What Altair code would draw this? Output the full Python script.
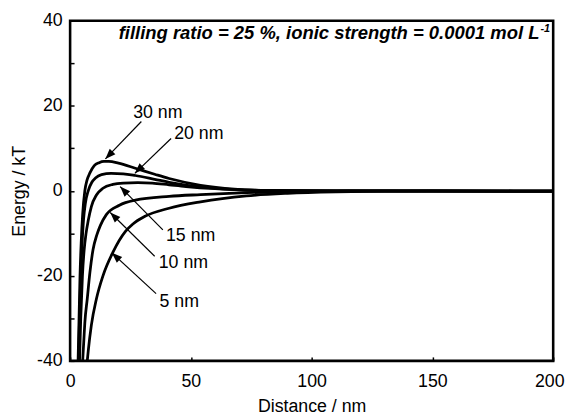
import math
import altair as alt
import pandas as pd

# ---- curve data (distance nm, energy kT) ----
x_30 = [3.3, 3.7, 4.1, 4.6, 5.2, 6.1, 7.0, 8.2, 10.0, 12.0, 14.0, 16.0, 20.0, 27.0, 35.0, 41.0, 54.0, 68.0, 80.0, 100.0, 200.0]
y_30 = [-40, -30, -20, -12, -5.5, 0, 2.5, 4.2, 5.9, 6.6, 6.9, 6.9, 6.5, 5.3, 3.9, 2.9, 1.3, 0.4, 0.1, 0.0, -0.1]

x_20 = [3.5, 3.9, 4.4, 5.0, 5.6, 6.3, 7.5, 9.0, 10.5, 13.0, 17.0, 22.0, 27.0, 35.0, 41.0, 54.0, 68.0, 80.0, 100.0, 200.0]
y_20 = [-40, -30, -20, -12, -6.5, -3.0, 0, 2.0, 3.0, 3.8, 4.1, 4.0, 3.6, 2.7, 2.0, 0.9, 0.25, 0.05, 0.0, -0.1]

x_15 = [3.9, 4.4, 5.1, 5.8, 6.6, 7.5, 8.8, 10.9, 13.6, 17.7, 22.0, 28.0, 34.0, 41.0, 48.0, 60.0, 75.0, 90.0, 110.0, 200.0]
y_15 = [-40, -30, -20, -14, -10, -7.0, -3.7, -1.0, 0.6, 1.5, 1.8, 1.9, 1.8, 1.4, 1.0, 0.5, 0.15, 0.03, 0.0, -0.1]

x_10 = [5.2, 5.7, 6.1, 7.1, 8.2, 9.5, 11.0, 12.5, 15.0, 20.4, 27.0, 41.0, 54.0, 73.0, 90.0, 110.0, 130.0, 200.0]
y_10 = [-40, -35, -31, -25.4, -19.2, -13.8, -10.5, -8.2, -5.6, -3.4, -2.2, -1.3, -0.9, -0.45, -0.2, -0.05, 0.0, -0.1]

x_5 = [7.1, 7.5, 8.8, 10.9, 13.6, 17.7, 23.0, 26.0, 31.0, 41.0, 54.0, 73.0, 90.0, 110.0, 130.0, 150.0, 200.0]
y_5 = [-40, -37.7, -31.6, -25.4, -20.0, -14.5, -9.5, -7.8, -6.0, -4.1, -2.6, -1.2, -0.6, -0.25, -0.1, 0.0, -0.1]

series = [("30 nm", x_30, y_30), ("20 nm", x_20, y_20), ("15 nm", x_15, y_15),
          ("10 nm", x_10, y_10), ("5 nm", x_5, y_5)]

# ---- annotations ----
ann_labels = ["30 nm", "20 nm", "15 nm", "10 nm", "5 nm"]
ann_text_x = [36.3, 53.3, 49.9, 46.9, 45.2]
ann_text_y = [18.3, 13.3, -10.7, -17.0, -26.2]
arr_start_x = [29.5, 41.8, 38.4, 35.0, 35.6]
arr_start_y = [16.3, 12.3, -9.2, -15.4, -24.2]
arr_tip_x = [14.6, 26.8, 20.7, 16.6, 17.3]
arr_tip_y = [7.5, 4.1, 1.0, -5.1, -14.6]

title_main = "filling ratio = 25 %, ionic strength = 0.0001 mol L"
title_sup = "-1"

x_ticks = [0, 50, 100, 150, 200]
y_ticks = [-40, -30, -20, -10, 0, 10, 20, 30, 40]

W, H = 490, 345
XMIN, XMAX, YMIN, YMAX = 0, 200, -40, 40
FONT = "Liberation Sans"

rows = []
for name, xs, ys in series:
    for i, (a, b) in enumerate(zip(xs, ys)):
        rows.append({"series": name, "order": i, "x": a, "y": b})
curves = pd.DataFrame(rows)

px_x = W / (XMAX - XMIN)
px_y = H / (YMAX - YMIN)
angles = []
for sx, sy, tx, ty in zip(arr_start_x, arr_start_y, arr_tip_x, arr_tip_y):
    dx = (tx - sx) * px_x
    dy = (ty - sy) * px_y
    angles.append(math.degrees(math.atan2(dx, dy)) % 360)

ann = pd.DataFrame({
    "label": ann_labels, "tx": ann_text_x, "ty": ann_text_y,
    "sx": arr_start_x, "sy": arr_start_y, "ex": arr_tip_x, "ey": arr_tip_y,
    "angle": angles,
})

xscale = alt.Scale(domain=[XMIN, XMAX], nice=False, zero=False)
yscale = alt.Scale(domain=[YMIN, YMAX], nice=False, zero=False)

xaxis = alt.Axis(values=x_ticks, tickSize=4, offset=-4, domain=False,
                 grid=False, labelPadding=12, labelFlush=False, labelOverlap=False,
                 labelOffset={"condition": {"test": "datum.value == 200", "value": -4},
                              "value": 0},
                 labelFont=FONT, labelFontSize=18, labelColor="black",
                 tickColor="black", tickWidth=1.5,
                 title="Distance / nm", titleFont=FONT, titleFontSize=18,
                 titleFontWeight="normal", titleColor="black", titlePadding=7)
yaxis = alt.Axis(values=y_ticks, tickSize=4, offset=-4,
                 domain=False, grid=False, labelPadding=8, labelFlush=False,
                 labelOverlap=False,
                 labelExpr="datum.value % 20 == 0 ? '' + datum.value : ''",
                 labelFont=FONT, labelFontSize=18, labelColor="black",
                 tickColor="black", tickWidth=1.5,
                 title="Energy / kT", titleFont=FONT, titleFontSize=18,
                 titleFontWeight="normal", titleColor="black", titlePadding=8)

lines = alt.Chart(curves).mark_line(color="black", strokeWidth=2.8, clip=True,
                                    interpolate="monotone").encode(
    x=alt.X("x:Q", scale=xscale, axis=xaxis),
    y=alt.Y("y:Q", scale=yscale, axis=yaxis),
    detail="series:N",
    order="order:Q",
)

frame_df = pd.DataFrame({"x": [XMIN], "x2": [XMAX], "y": [YMIN], "y2": [YMAX]})
frame = alt.Chart(frame_df).mark_rect(fill=None, fillOpacity=0, stroke="black",
                                      strokeWidth=2.6).encode(
    x="x:Q", x2="x2:Q", y="y:Q", y2="y2:Q")

arrows = alt.Chart(ann).mark_rule(color="black", strokeWidth=1.2).encode(
    x="sx:Q", y="sy:Q", x2="ex:Q", y2="ey:Q")

heads = alt.Chart(ann).mark_point(
    shape="M0,0 L-0.38,1 L0.38,1 Z", filled=True, color="black", size=440, opacity=1
).encode(x="ex:Q", y="ey:Q", angle=alt.Angle("angle:Q", scale=None))

labels = alt.Chart(ann).mark_text(font=FONT, fontSize=18, color="black",
                                  align="center", baseline="middle").encode(
    x="tx:Q", y="ty:Q", text="label:N")

title_df = pd.DataFrame({"x": [194.3], "y": [35.8], "t": [title_main]})
sup_df = pd.DataFrame({"x": [194.7], "y": [37.3], "t": [title_sup]})

title_txt = alt.Chart(title_df).mark_text(font=FONT, fontSize=18.7, fontStyle="italic",
                                         fontWeight="bold", color="black",
                                         align="right", baseline="alphabetic").encode(
    x="x:Q", y="y:Q", text="t:N")
sup_txt = alt.Chart(sup_df).mark_text(font=FONT, fontSize=11, fontStyle="italic",
                                     fontWeight="bold", color="black",
                                     align="left", baseline="alphabetic").encode(
    x="x:Q", y="y:Q", text="t:N")

chart = alt.layer(lines, frame, arrows, heads, labels, title_txt, sup_txt).properties(
    width=W, height=H,
    autosize=alt.AutoSizeParams(type="none"),
    padding={"left": 63, "top": 10, "right": 13, "bottom": 52},
).configure(background="white").configure_view(stroke=None)

chart.save("out.html", embed_options={"renderer": "svg", "actions": False})
